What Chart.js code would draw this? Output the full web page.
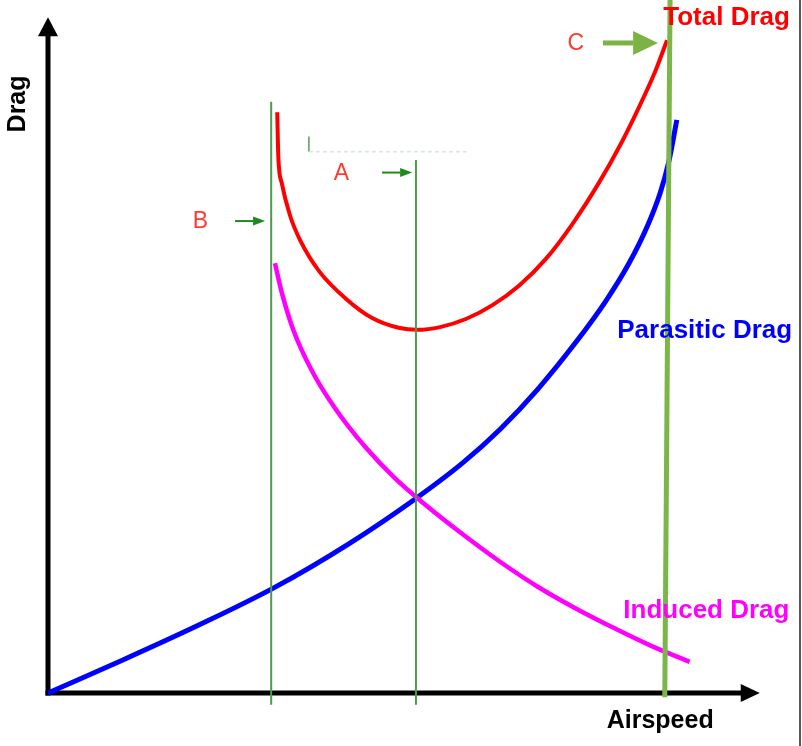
<!DOCTYPE html>
<html>
<head>
<meta charset="utf-8">
<script src="https://cdn.jsdelivr.net/npm/chart.js@4.4.0/dist/chart.umd.min.js"></script>
<style>
  body { margin: 0; background: #fff; }
  #wrap { width: 802px; height: 746px; position: relative; }
</style>
</head>
<body>
<div id="wrap"><canvas id="dragChart"></canvas></div>
<script>
// airspeed (x) and drag (y), both on a 0-100 scale
const parasiticSpeed = [0, 10, 20, 30, 40, 48.7, 55, 60, 65, 70, 74, 77, 79.5, 81.2, 82.3, 83.4];
const parasiticDrag  = [0, 4.8, 9.8, 15.2, 21.6, 28.0, 33.2, 38.1, 43.9, 50.6, 56.6, 61.9, 67.4, 72.2, 76.5, 82.7];

const inducedSpeed = [30.1, 31.0, 32.5, 35, 38, 42, 46, 50, 55, 60, 65, 70, 75, 80, 85.1];
const inducedDrag  = [62.0, 57.8, 52.5, 46.5, 41.2, 35.6, 31.0, 27.2, 22.9, 18.9, 15.3, 12.2, 9.4, 6.8, 4.5];

const totalSpeed = [30.4, 30.55, 31.0, 32.1, 33.5, 36.0, 39.5, 43.0, 46.5, 49.0, 52.0, 55.5, 59.0, 62.5, 66.0, 69.5, 73.0, 76.0, 78.5, 80.5, 82.1];
const totalDrag  = [83.8, 77.3, 73.6, 68.9, 65.2, 60.8, 56.9, 54.1, 52.7, 52.4, 52.8, 54.0, 56.0, 58.8, 62.6, 67.6, 73.5, 79.3, 84.8, 89.6, 94.2];

// vertical markers: B (stall side), A (minimum drag), C (top speed)
const markerSpeed = [29.6, 48.8];
const markerTop = [85.3, 76.9];
const markerBottom = -1.7;
const cSpeed = [82.5, 81.8];
const cDrag = [100, -0.6];

const xAxisEnd = 94.4;
const yAxisEnd = 97.5;

function toPoints(xs, ys) {
  return xs.map((v, i) => ({ x: v, y: ys[i] }));
}

function curve(label, xs, ys, color, width) {
  return {
    label: label,
    data: toPoints(xs, ys),
    borderColor: color,
    borderWidth: width,
    showLine: true,
    pointRadius: 0,
    cubicInterpolationMode: 'monotone'
  };
}

function straight(label, pts, color, width) {
  return {
    label: label,
    data: pts,
    borderColor: color,
    borderWidth: width,
    showLine: true,
    pointRadius: 0,
    tension: 0
  };
}

function arrow(ctx, x0, x1, xHead, y, half, color, w) {
  ctx.strokeStyle = color;
  ctx.fillStyle = color;
  ctx.lineWidth = w;
  ctx.beginPath();
  ctx.moveTo(x0, y);
  ctx.lineTo(xHead, y);
  ctx.stroke();
  ctx.beginPath();
  ctx.moveTo(x1, y);
  ctx.lineTo(xHead, y - half);
  ctx.lineTo(xHead, y + half);
  ctx.closePath();
  ctx.fill();
}

const overlay = {
  id: 'overlay',
  beforeDatasetsDraw(chart) {
    const { ctx, scales: { x, y } } = chart;
    const ox = x.getPixelForValue(0);
    const oy = y.getPixelForValue(0);
    const yTip = y.getPixelForValue(yAxisEnd);
    const xTip = x.getPixelForValue(xAxisEnd);
    ctx.save();
    ctx.strokeStyle = '#000';
    ctx.fillStyle = '#000';
    ctx.lineWidth = 5;
    ctx.beginPath();
    ctx.moveTo(ox, oy + 2.5);
    ctx.lineTo(ox, yTip + 12);
    ctx.stroke();
    ctx.beginPath();
    ctx.moveTo(ox - 2.5, oy);
    ctx.lineTo(xTip - 12, oy);
    ctx.stroke();
    // arrow heads
    ctx.beginPath();
    ctx.moveTo(ox, yTip);
    ctx.lineTo(ox - 10, yTip + 19);
    ctx.lineTo(ox + 10, yTip + 19);
    ctx.closePath();
    ctx.fill();
    ctx.beginPath();
    ctx.moveTo(xTip, oy);
    ctx.lineTo(xTip - 19, oy - 9);
    ctx.lineTo(xTip - 19, oy + 9);
    ctx.closePath();
    ctx.fill();
    // frame edge on the right
    ctx.lineWidth = 1.5;
    ctx.strokeStyle = '#222';
    ctx.beginPath();
    ctx.moveTo(chart.width - 2, 0);
    ctx.lineTo(chart.width - 2, chart.height);
    ctx.stroke();
    // remains of an erased label
    ctx.strokeStyle = '#5a9a5a';
    ctx.lineWidth = 1.5;
    ctx.beginPath();
    ctx.moveTo(x.getPixelForValue(34.6), y.getPixelForValue(80.3));
    ctx.lineTo(x.getPixelForValue(34.6), y.getPixelForValue(78.1));
    ctx.stroke();
    ctx.strokeStyle = '#d6e8d6';
    ctx.setLineDash([4, 3]);
    ctx.beginPath();
    ctx.moveTo(x.getPixelForValue(34.6), y.getPixelForValue(78.1));
    ctx.lineTo(x.getPixelForValue(55.5), y.getPixelForValue(78.1));
    ctx.stroke();
    ctx.restore();
  },
  afterDatasetsDraw(chart) {
    const { ctx, scales: { x, y } } = chart;
    ctx.save();
    ctx.textBaseline = 'alphabetic';
    ctx.textAlign = 'left';
    ctx.font = 'bold 26px "Liberation Sans", Arial, sans-serif';
    ctx.fillStyle = '#ff0000';
    ctx.fillText('Total Drag', x.getPixelForValue(81.6), y.getPixelForValue(96.4));
    ctx.fillStyle = '#0000ff';
    ctx.fillText('Parasitic Drag', x.getPixelForValue(75.5), y.getPixelForValue(51.2));
    ctx.fillStyle = '#ff00ff';
    ctx.fillText('Induced Drag', x.getPixelForValue(76.3), y.getPixelForValue(10.8));
    ctx.fillStyle = '#000';
    ctx.font = 'bold 25px "Liberation Sans", Arial, sans-serif';
    ctx.fillText('Airspeed', x.getPixelForValue(74.1), y.getPixelForValue(-5.05));
    // rotated y title
    ctx.save();
    ctx.translate(x.getPixelForValue(-3.05), y.getPixelForValue(85.0));
    ctx.rotate(-Math.PI / 2);
    ctx.textAlign = 'center';
    ctx.fillText('Drag', 0, 0);
    ctx.restore();
    // point letters
    ctx.font = '23px "Liberation Sans", Arial, sans-serif';
    ctx.fillStyle = '#ff3a2e';
    ctx.textAlign = 'center';
    ctx.textBaseline = 'middle';
    ctx.fillText('A', x.getPixelForValue(38.9), y.getPixelForValue(74.9));
    ctx.fillText('B', x.getPixelForValue(20.2), y.getPixelForValue(68.0));
    ctx.fillText('C', x.getPixelForValue(70.0), y.getPixelForValue(93.7));
    // pointer arrows
    arrow(ctx, x.getPixelForValue(24.8), x.getPixelForValue(28.8), x.getPixelForValue(27.2),
      y.getPixelForValue(68.1), 4.5, '#1e8a1e', 2);
    arrow(ctx, x.getPixelForValue(44.3), x.getPixelForValue(48.3), x.getPixelForValue(46.7),
      y.getPixelForValue(75.1), 4.5, '#1e8a1e', 2);
    arrow(ctx, x.getPixelForValue(73.6), x.getPixelForValue(80.9), x.getPixelForValue(77.6),
      y.getPixelForValue(93.8), 12, '#7cb342', 5);
    ctx.restore();
  }
};

new Chart(document.getElementById('dragChart'), {
  type: 'scatter',
  data: {
    datasets: [
      straight('C', toPoints(cSpeed, cDrag), '#7ab648', 5),
      straight('A', [{ x: markerSpeed[1], y: markerTop[1] }, { x: markerSpeed[1], y: markerBottom }], '#4f9a4f', 2),
      straight('B', [{ x: markerSpeed[0], y: markerTop[0] }, { x: markerSpeed[0], y: markerBottom }], '#4f9a4f', 2),
      curve('Total Drag', totalSpeed, totalDrag, '#ff0000', 4),
      curve('Induced Drag', inducedSpeed, inducedDrag, '#ff00ff', 4.5),
      curve('Parasitic Drag', parasiticSpeed, parasiticDrag, '#0000ff', 5)
    ]
  },
  options: {
    responsive: true,
    maintainAspectRatio: false,
    animation: false,
    devicePixelRatio: 1,
    layout: { padding: 0 },
    scales: {
      x: { type: 'linear', display: false, min: -6.366, max: 100 },
      y: { type: 'linear', display: false, min: -7.648, max: 100 }
    },
    plugins: {
      legend: { display: false },
      tooltip: { enabled: false }
    }
  },
  plugins: [overlay]
});
</script>
</body>
</html>
